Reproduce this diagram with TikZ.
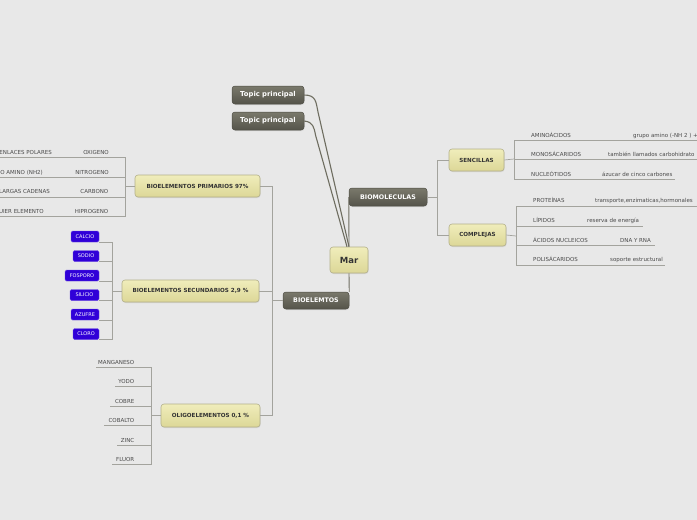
\documentclass[tikz,border=0pt]{standalone}
\usepackage{fontspec}
\setmainfont{DejaVu Sans}
\usetikzlibrary{shadows}
\definecolor{bg}{HTML}{E8E8E8}
\definecolor{ytop}{HTML}{F0EDBB}
\definecolor{ybot}{HTML}{DCD797}
\definecolor{yedge}{HTML}{B3B08A}
\definecolor{dtop}{HTML}{7A796C}
\definecolor{dbot}{HTML}{55544A}
\definecolor{dedge}{HTML}{4E4D44}
\definecolor{blu}{HTML}{3000D8}
\definecolor{lncol}{HTML}{A3A39D}
\definecolor{mainln}{HTML}{6E6D60}
\definecolor{txt}{HTML}{4A4A4A}
\tikzset{
  shad/.style={drop shadow={opacity=0.18, shadow xshift=0.6pt, shadow yshift=-1pt}},
  ybox/.style={shad, rounded corners=3pt, draw=yedge, line width=0.6pt, top color=ytop, bottom color=ybot, inner sep=0pt, text=black!80, font=\fontsize{5.6}{6}\selectfont\bfseries},
  dbox/.style={shad, rounded corners=3pt, draw=dedge, line width=0.5pt, top color=dtop, bottom color=dbot, inner sep=0pt, text=white, font=\fontsize{6.8}{7}\selectfont\bfseries},
  bbox/.style={rounded corners=1.5pt, draw=blu!70!white, line width=0.4pt, fill=blu, inner sep=0pt, text=white, font=\fontsize{5}{6}\selectfont},
  leaf/.style={inner sep=0pt, text=txt, font=\fontsize{5.5}{6}\selectfont},
  ln/.style={draw=lncol, line width=0.7pt},
  mln/.style={draw=mainln, line width=1.1pt},
}
\begin{document}
\begin{tikzpicture}[x=1pt,y=-1pt]
\fill[bg] (0,0) rectangle (697,520);
\useasboundingbox (0,0) rectangle (697,520);
\clip (0,0) rectangle (697,520);

% ---------- main nodes ----------
\node[ybox, minimum width=38pt, minimum height=26pt, font=\fontsize{8.5}{9}\selectfont\bfseries] (mar) at (349,260) {Mar};
\node[dbox, minimum width=72pt, minimum height=18pt] (tp1) at (268,95) {Topic principal};
\node[dbox, minimum width=72pt, minimum height=18pt] (tp2) at (268,121) {Topic principal};
\node[dbox, minimum width=78pt, minimum height=18pt, font=\fontsize{6.3}{7}\selectfont\bfseries] (biomol) at (388,197) {BIOMOLECULAS};
\node[dbox, minimum width=66pt, minimum height=17pt, font=\fontsize{6.3}{7}\selectfont\bfseries] (bioel) at (316,300.5) {BIOELEMTOS};

\node[ybox, minimum width=55pt, minimum height=22pt] (sen) at (476.5,160) {SENCILLAS};
\node[ybox, minimum width=57pt, minimum height=22pt] (comp) at (477.5,235) {COMPLEJAS};

\node[ybox, minimum width=125pt, minimum height=22pt] (prim) at (197.5,186) {BIOELEMENTOS PRIMARIOS 97\%};
\node[ybox, minimum width=137pt, minimum height=22pt] (secu) at (190.5,291) {BIOELEMENTOS SECUNDARIOS 2,9 \%};
\node[ybox, minimum width=99pt, minimum height=23pt] (olig) at (210.5,415.5) {OLIGOELEMENTOS 0,1 \%};

% ---------- main connectors ----------
\draw[mln] (tp1.east) .. controls (316,95) and (316,102) .. (318,112) -- (mar.north);
\draw[mln] (tp2.east) .. controls (313,122) and (314,127) .. (315.5,135) -- ([xshift=-2pt]mar.north);
\draw[mln, line width=0.9pt] ([xshift=0pt]mar.north) -- (biomol.south west |- biomol.center);
\draw[mln, line width=0.9pt] (mar.south) -- (bioel.north east);

% ---------- biomoleculas branch ----------
\coordinate (bj) at (437,197);
\draw[ln] (biomol.east) -- (bj);
\draw[ln] (sen.west) -| (bj);
\draw[ln] (comp.west) -| (bj);

% sencillas
\coordinate (sj) at (514,159);
\draw[ln] (sen.east) -- (sj);
\coordinate (s1) at (697,140);
\coordinate (s2) at (697,159);
\coordinate (s3) at (675,179);
\draw[ln] (sj) |- (s1);
\draw[ln] (sj) |- (s2);
\draw[ln] (sj) |- (s3);
\node[leaf, anchor=base west] (amino) at (531,137) {AMINOÁCIDOS};
\node[leaf, anchor=base west] (aminoD) at (633,137) {grupo amino (-NH 2 ) +};
\node[leaf, anchor=base west] (mono) at (531,156) {MONOSÁCARIDOS};
\node[leaf, anchor=base west] (monoD) at (608,156) {también llamados carbohidrato};
\node[leaf, anchor=base west] (nucl) at (531,176) {NUCLEÓTIDOS};
\node[leaf, anchor=base west] (nuclD) at (602,176) {ázucar de cinco carbones};

% complejas
\coordinate (cj) at (516,236);
\draw[ln] (comp.east) -- (cj);
\coordinate (c1) at (697,206);
\coordinate (c2) at (643,226);
\coordinate (c3) at (655,245.5);
\coordinate (c4) at (665,265);
\draw[ln] (cj) |- (c1);
\draw[ln] (cj) |- (c2);
\draw[ln] (cj) |- (c3);
\draw[ln] (cj) |- (c4);
\node[leaf, anchor=base west] (prot) at (533,202.5) {PROTEÍNAS};
\node[leaf, anchor=base west] (protD) at (595,202.5) {transporte,enzimaticas,hormonales};
\node[leaf, anchor=base west] (lip) at (533,222) {LÍPIDOS};
\node[leaf, anchor=base west] (lipD) at (587,222) {reserva de energía};
\node[leaf, anchor=base west] (acid) at (533,242.5) {ÁCIDOS NUCLEICOS};
\node[leaf, anchor=base west] (acidD) at (620,242.5) {DNA Y RNA};
\node[leaf, anchor=base west] (poli) at (533,261.5) {POLISÁCARIDOS};
\node[leaf, anchor=base west] (poliD) at (610,261.5) {soporte estructural};

% ---------- bioelementos branch ----------
\coordinate (ej) at (272,300.5);
\draw[ln] (bioel.west) -- (ej);
\draw[ln] (prim.east) -| (ej);
\draw[ln] (secu.east) -| (ej);
\draw[ln] (olig.east) -| (ej);

% primarios
\coordinate (pj) at (125,186);
\draw[ln] (prim.west) -- (pj);
\coordinate (p1) at (0,157);
\coordinate (p2) at (0,177);
\coordinate (p3) at (0,197);
\coordinate (p4) at (0,216);
\draw[ln] (pj) |- (p1);
\draw[ln] (pj) |- (p2);
\draw[ln] (pj) |- (p3);
\draw[ln] (pj) |- (p4);
\node[leaf, anchor=base east] (pa) at (52,154) {ENLACES POLARES};
\node[leaf, anchor=base east] (pb) at (43,174) {O AMINO (NH2)};
\node[leaf, anchor=base east] (pc) at (50,193.5) {LARGAS CADENAS};
\node[leaf, anchor=base east] (pd) at (44,213) {UIER ELEMENTO};
\node[leaf, anchor=base east] (oxi) at (109,154) {OXIGENO};
\node[leaf, anchor=base east] (nit) at (109,174) {NITROGENO};
\node[leaf, anchor=base east] (car) at (108.5,193.5) {CARBONO};
\node[leaf, anchor=base east] (hid) at (108.5,213) {HIPROGENO};

% secundarios
\coordinate (qj) at (112,291);
\draw[ln] (secu.west) -- (qj);
\node[bbox, minimum width=28pt, minimum height=11pt] (calcio) at (85,236.5) {CALCIO};
\node[bbox, minimum width=26pt, minimum height=11pt] (sodio) at (86,256) {SODIO};
\node[bbox, minimum width=34pt, minimum height=11pt] (fosp) at (82,275.5) {FOSPORO};
\node[bbox, minimum width=29pt, minimum height=11pt] (sili) at (84.5,295) {SILICIO};
\node[bbox, minimum width=28pt, minimum height=11pt] (azuf) at (85,314.5) {AZUFRE};
\node[bbox, minimum width=26pt, minimum height=11pt] (cloro) at (86,334) {CLORO};
\foreach \b in {calcio,sodio,fosp,sili,azuf,cloro}{
  \draw[ln] (\b.south east) -| (qj);
}

% oligoelementos
\coordinate (oj) at (151,415.5);
\draw[ln] (olig.west) -- (oj);
\coordinate (o1) at (96,367);
\coordinate (o2) at (115,386);
\coordinate (o3) at (110,406);
\coordinate (o4) at (104,425);
\coordinate (o5) at (117,445);
\coordinate (o6) at (112,464);
\foreach \o in {o1,o2,o3,o4,o5,o6}{
  \draw[ln] (oj) |- (\o);
}
\node[leaf, anchor=base east] (mang) at (134.5,364) {MANGANESO};
\node[leaf, anchor=base east] (yodo) at (134.5,383) {YODO};
\node[leaf, anchor=base east] (cobre) at (134.5,403) {COBRE};
\node[leaf, anchor=base east] (cobal) at (134.5,422) {COBALTO};
\node[leaf, anchor=base east] (zinc) at (134.5,442) {ZINC};
\node[leaf, anchor=base east] (fluor) at (134.5,461) {FLUOR};
\end{tikzpicture}
\end{document}
